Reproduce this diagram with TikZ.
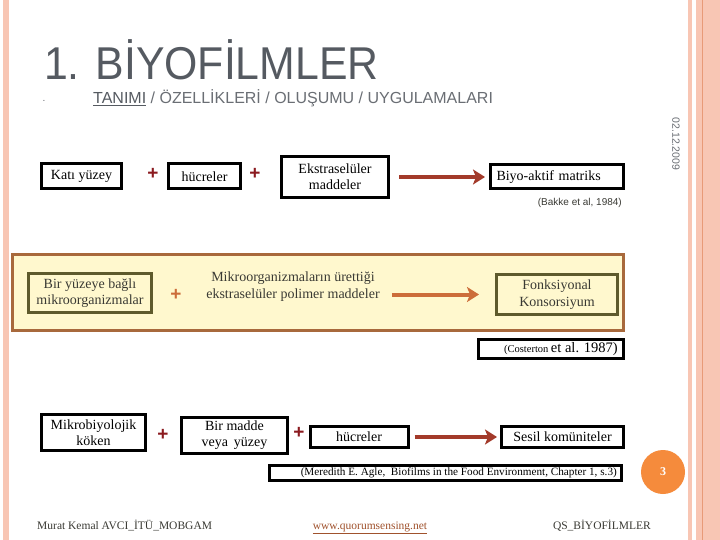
\documentclass[tikz,border=0pt]{standalone}
\usepackage{fontspec}
\setmainfont{Liberation Serif}
\newfontfamily\arialf{Liberation Sans}
\usetikzlibrary{arrows.meta}
\definecolor{pinkS}{HTML}{F8C6B4}
\definecolor{pinkD}{HTML}{E89A78}
\definecolor{titleG}{HTML}{555A61}
\definecolor{subG}{HTML}{6A6E74}
\definecolor{plusRed}{HTML}{8B1A1F}
\definecolor{arrRed}{HTML}{A33A2A}
\definecolor{panelF}{HTML}{FFF8CE}
\definecolor{panelB}{HTML}{A8693C}
\definecolor{oliveB}{HTML}{5E5A2C}
\definecolor{oranP}{HTML}{CC6D3A}
\definecolor{circO}{HTML}{F58B3C}
\definecolor{linkC}{HTML}{A0522D}
\definecolor{textD}{HTML}{3A3A34}
\tikzset{
  bbox/.style={draw=black, line width=3pt, fill=white, inner sep=0pt, align=center,
    font=\fontsize{14}{16}\selectfont},
  obox/.style={draw=oliveB, line width=3pt, fill=panelF, inner sep=0pt, align=center,
    text=textD, font=\fontsize{14}{16.5}\selectfont},
  plusr/.style={text=plusRed, inner sep=0pt, font=\arialf\bfseries\fontsize{19}{19}\selectfont},
  pluso/.style={text=oranP, inner sep=0pt, font=\arialf\bfseries\fontsize{19}{19}\selectfont},
  arrR/.style={draw=arrRed, line width=4pt, -{Stealth[length=12pt,width=15pt,inset=3pt]}},
  arrO/.style={draw=oranP, line width=4pt, -{Stealth[length=12pt,width=15pt,inset=3pt]}},
  foot/.style={inner sep=0pt, text=textD, font=\fontsize{11.5}{13}\selectfont}
}
\begin{document}
\begin{tikzpicture}[x=1pt,y=-1pt]
\useasboundingbox (0,0) rectangle (720,540);
\fill[white] (0,0) rectangle (720,540);
% side stripes
\fill[pinkS] (3,0) rectangle (9,540);
\fill[pinkS] (688,0) rectangle (692,540);
\fill[pinkS] (696,0) rectangle (720,540);
\fill[pinkD] (701.5,0) rectangle (703,540);
% title
\node[anchor=base west, inner sep=0pt, text=titleG, font=\arialf\fontsize{46}{46}\selectfont, xscale=0.93] (title) at (44,80) {1. BİYOFİLMLER};
\node[anchor=base west, inner sep=0pt, text=subG, font=\arialf\fontsize{16}{16}\selectfont] (sub) at (93,104)
  {\textcolor{titleG}{\underline{TANIMI}} / ÖZELLİKLERİ / OLUŞUMU / UYGULAMALARI};
\node[inner sep=0pt, text=subG, font=\arialf\fontsize{10}{10}\selectfont] (dot) at (44,101) {.};
\node[rotate=-90, inner sep=0pt, text=subG, font=\arialf\fontsize{10.5}{10.5}\selectfont] (date) at (676,144) {02.12.2009};
% row 1
\node[bbox, minimum width=80, minimum height=25] (kati) at (81.5,176.5) {Katı yüzey};
\node[plusr] (p1) at (153,174) {+};
\node[bbox, minimum width=72, minimum height=25] (hucre) at (204.5,176.5) {hücreler};
\node[plusr] (p2) at (255,174) {+};
\node[bbox, minimum width=107, minimum height=41] (ekstra) at (335,177) {Ekstraselüler\\maddeler};
\node[bbox, minimum width=133, minimum height=24, text width=121, align=left, inner xsep=6pt] (biyo) at (557,177) {Biyo-aktif matriks};
\draw[arrR] ([xshift=9pt]ekstra.east) -- ([xshift=-4pt]biyo.west);
\node[anchor=east, inner sep=0pt, text=textD, font=\arialf\fontsize{10}{10}\selectfont] (bakke) at (622,203) {(Bakke et al, 1984)};
% row 2
\node[draw=panelB, line width=3pt, fill=panelF, minimum width=611, minimum height=76, inner sep=0pt] (panel) at (318,292.5) {};
\node[obox, minimum width=123, minimum height=39] (bir) at (90,293) {Bir yüzeye bağlı\\mikroorganizmalar};
\node[pluso] (p3) at (176,295) {+};
\node[inner sep=0pt, align=center, text=textD, font=\fontsize{14}{17}\selectfont] (mikro) at (293,287) {Mikroorganizmaların ürettiği\\ekstraselüler polimer maddeler};
\node[obox, minimum width=121, minimum height=40] (fonk) at (557,294.5) {Fonksiyonal\\Konsorsiyum};
\draw[arrO] ([xshift=12pt]mikro.east |- fonk.west) -- ([xshift=-16pt]fonk.west);
\node[draw=black, line width=3pt, fill=white, minimum width=145, minimum height=19, inner sep=0pt] (cost) at (551,349) {};
\node[anchor=east, inner sep=0pt, text=black] (costt) at ([xshift=-7pt]cost.east) {{\fontsize{10.5}{11}\selectfont (Costerton} {\fontsize{14.5}{15}\selectfont et al. 1987)}};
% row 3
\node[bbox, minimum width=104, minimum height=36] (mikb) at (93.5,432.5) {Mikrobiyolojik\\köken};
\node[plusr] (p4) at (163,435) {+};
\node[bbox, minimum width=106, minimum height=36] (madde) at (234.5,435.5) {Bir madde\\veya\, yüzey};
\node[plusr] (p5) at (299,433) {+};
\node[bbox, minimum width=98, minimum height=21] (hucre2) at (359,437) {hücreler};
\node[bbox, minimum width=122, minimum height=21] (sesil) at (562.5,437) {Sesil komüniteler};
\draw[arrR] ([xshift=5pt]hucre2.east) -- ([xshift=-3pt]sesil.west);
\node[draw=black, line width=3pt, fill=white, minimum width=352, minimum height=15, inner sep=0pt] (meredith) at (445.5,473) {};
\node[anchor=east, inner sep=0pt, font=\fontsize{11.2}{12}\selectfont] (meredt) at ([xshift=-6pt]meredith.east) {(Meredith E. Agle,\ \ Biofilms in the Food Environment, Chapter 1, s.3)};
% page number
\node[circle, fill=circO, minimum size=44, inner sep=0pt, text=white, font=\fontsize{12}{12}\selectfont\bfseries] (pg) at (663,472) {3};
% footer
\node[foot, anchor=base west] (f1) at (37,529) {Murat Kemal AVCI\_İTÜ\_MOBGAM};
\node[foot, anchor=base, text=linkC] (f2) at (370,529) {\underline{www.quorumsensing.net}};
\node[foot, anchor=base east] (f3) at (651,529) {QS\_BİYOFİLMLER};
\end{tikzpicture}
\end{document}
